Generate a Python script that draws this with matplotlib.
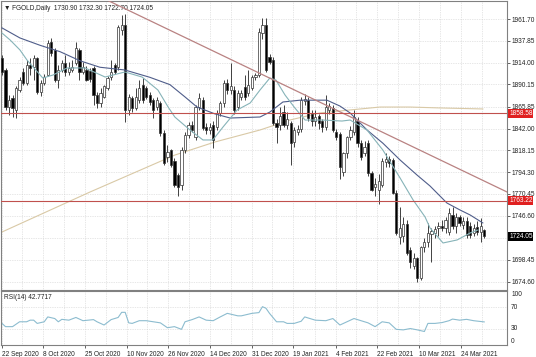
import numpy as np
import matplotlib
matplotlib.use("Agg")
import matplotlib.pyplot as plt
import matplotlib.transforms as mtrans

plt.rcParams["font.family"] = ["Liberation Sans", "DejaVu Sans"]

# daily OHLC (bar 0 = 22 Sep 2020)
opens = [1919, 1906, 1866, 1875, 1862, 1884, 1904, 1892, 1911, 1909,
         1919, 1882, 1892, 1900, 1937, 1928, 1895, 1906, 1914, 1904,
         1906, 1914, 1928, 1904, 1906, 1905, 1908, 1879, 1870, 1877,
         1886, 1898, 1911, 1909, 1950, 1955, 1862, 1875, 1864, 1873,
         1890, 1886, 1879, 1873, 1866, 1870, 1837, 1811, 1818, 1807,
         1791, 1780, 1819, 1835, 1846, 1833, 1866, 1873, 1844, 1840,
         1846, 1844, 1859, 1870, 1892, 1884, 1884, 1866, 1876, 1887,
         1881, 1886, 1898, 1900, 1946, 1955, 1920, 1917, 1848, 1846,
         1860, 1846, 1848, 1827, 1838, 1842, 1872, 1873, 1858, 1850,
         1856, 1850, 1844, 1862, 1864, 1838, 1836, 1795, 1815, 1833,
         1838, 1850, 1826, 1815, 1826, 1793, 1778, 1775, 1780, 1805,
         1809, 1808, 1772, 1723, 1724, 1738, 1709, 1692, 1700, 1679,
         1712, 1718, 1727, 1728, 1733, 1736, 1733, 1729, 1748, 1735,
         1745, 1737, 1741, 1736, 1728, 1734, 1729, 1730.90]
highs = [1922, 1908, 1879, 1879, 1888, 1898, 1908, 1917, 1919, 1922,
         1920, 1895, 1902, 1939, 1941, 1930, 1911, 1917, 1922, 1915,
         1917, 1937, 1930, 1915, 1910, 1908, 1910, 1882, 1886, 1890,
         1899, 1917, 1914, 1955, 1966, 1967, 1880, 1878, 1886, 1895,
         1897, 1888, 1882, 1875, 1876, 1872, 1840, 1824, 1820, 1810,
         1793, 1822, 1838, 1849, 1850, 1868, 1881, 1876, 1848, 1848,
         1850, 1862, 1872, 1895, 1896, 1914, 1888, 1884, 1884, 1900,
         1906, 1900, 1903, 1952, 1963, 1963, 1924, 1920, 1852, 1866,
         1868, 1860, 1850, 1844, 1846, 1876, 1880, 1876, 1862, 1862,
         1858, 1852, 1879, 1870, 1868, 1842, 1838, 1816, 1834, 1845,
         1862, 1855, 1830, 1828, 1830, 1796, 1788, 1792, 1810, 1815,
         1812, 1810, 1775, 1756, 1745, 1742, 1712, 1706, 1702, 1714,
         1722, 1739, 1733, 1736, 1740, 1742, 1745, 1755, 1756, 1750,
         1748, 1745, 1745, 1740, 1738, 1741, 1744, 1732.30]
lows = [1900, 1862, 1857, 1855, 1853, 1882, 1890, 1890, 1900, 1895,
        1880, 1878, 1890, 1899, 1921, 1893, 1886, 1904, 1899, 1900,
        1904, 1911, 1895, 1902, 1894, 1893, 1868, 1864, 1866, 1875,
        1884, 1895, 1902, 1906, 1944, 1849, 1857, 1860, 1862, 1870,
        1870, 1874, 1868, 1853, 1862, 1834, 1802, 1805, 1800, 1778,
        1768, 1775, 1815, 1832, 1838, 1830, 1862, 1840, 1836, 1836,
        1821, 1840, 1856, 1866, 1880, 1880, 1858, 1862, 1873, 1873,
        1878, 1884, 1895, 1898, 1940, 1904, 1912, 1846, 1826, 1840,
        1844, 1842, 1802, 1822, 1835, 1838, 1868, 1850, 1845, 1845,
        1842, 1838, 1840, 1858, 1838, 1830, 1787, 1790, 1810, 1830,
        1835, 1822, 1808, 1812, 1790, 1774, 1768, 1760, 1778, 1800,
        1800, 1770, 1726, 1716, 1718, 1704, 1690, 1688, 1674, 1676,
        1707, 1712, 1696, 1722, 1725, 1730, 1728, 1726, 1732, 1728,
        1735, 1732, 1722, 1722, 1725, 1726, 1718, 1722.70]
closes = [1904, 1866, 1873, 1864, 1886, 1895, 1892, 1911, 1908, 1919,
          1882, 1892, 1898, 1935, 1925, 1895, 1906, 1914, 1904, 1908,
          1909, 1930, 1904, 1909, 1895, 1896, 1879, 1870, 1881, 1888,
          1897, 1904, 1904, 1953, 1955, 1862, 1876, 1864, 1876, 1886,
          1873, 1876, 1871, 1862, 1873, 1837, 1804, 1816, 1802, 1780,
          1778, 1819, 1835, 1846, 1840, 1866, 1875, 1843, 1840, 1844,
          1830, 1859, 1870, 1892, 1884, 1889, 1862, 1881, 1881, 1876,
          1890, 1898, 1900, 1948, 1955, 1906, 1915, 1848, 1844, 1856,
          1846, 1852, 1826, 1840, 1842, 1873, 1874, 1854, 1850, 1855,
          1848, 1844, 1866, 1867, 1840, 1833, 1800, 1815, 1833, 1840,
          1855, 1826, 1811, 1822, 1793, 1775, 1781, 1785, 1807, 1809,
          1804, 1772, 1728, 1733, 1738, 1706, 1696, 1700, 1679, 1712,
          1718, 1728, 1730, 1732, 1735, 1733, 1742, 1750, 1735, 1745,
          1739, 1741, 1726, 1726, 1733, 1729, 1735, 1724.05]

# moving averages, sampled (bar index, price)
ma_slow_x = [0, 5.1, 10.8, 16.5, 22.2, 27.8, 34.9, 42, 47.7, 52, 55.4, 60.5,
             64.8, 73.3, 76.1, 79.8, 84.7, 92.3, 96, 98.9, 103.7, 108.2,
             113.1, 117.9, 121.6, 126.4, 130.1, 133, 136.6]
ma_slow_y = [1952, 1941, 1933, 1926, 1916, 1909, 1906, 1898, 1890, 1876.5,
             1865.5, 1858, 1853.5, 1854.6, 1860, 1871, 1873, 1873, 1866.6,
             1859, 1840.4, 1826, 1807.6, 1791.2, 1779.2, 1760.6, 1753,
             1747.5, 1738.8]
ma_fast_x = [0, 2.3, 5.1, 7.1, 11.6, 14.5, 18.5, 23.6, 29.3, 34.9, 39.8, 44.3,
             47.2, 49.1, 53.4, 57.1, 59.9, 62.8, 66.8, 70.5, 73.3, 76.1, 77.8,
             80.4, 83.2, 86.1, 90.9, 96.6, 98.9, 103.7, 108.2, 113.1, 116.8,
             120.2, 121.6, 125.3, 129.3, 133, 135.2]
ma_fast_y = [1946.4, 1938.8, 1927.9, 1916.9, 1897.2, 1900.5, 1908.2, 1908.2,
             1898.3, 1903.8, 1898.3, 1884.1, 1865.5, 1854.6, 1840.4, 1829.5,
             1829.5, 1843.7, 1862.3, 1869.9, 1884.1, 1897.2, 1895.1, 1878.7,
             1864.5, 1851.3, 1851.3, 1850.2, 1851.3, 1840.4, 1818.5, 1787.9,
             1763.9, 1745.3, 1733.3, 1716.9, 1720.2, 1727.8, 1731.1]
ma_long_x = [0, 25, 49.1, 60.5, 73.3, 81.8, 90.3, 98.9, 107.4, 115.9, 124.4, 136.6]
ma_long_y = [1728.9, 1772.6, 1813, 1827.3, 1840.4, 1851.3, 1859, 1862.3,
             1865.5, 1865.5, 1864.5, 1863.4]

trend_x = [29.8, 143.5]
trend_y = [1982.5, 1772.6]
levels = [1858.58, 1763.22]
last_price = 1724.05

price_ticks = [1961.70, 1937.85, 1914.00, 1890.15, 1865.85, 1842.00, 1818.15,
               1794.30, 1770.45, 1746.60, 1722.75, 1698.45, 1674.60]
price_labels = ["1961.70", "1937.85", "1914.00", "1890.15", "1865.85", "1842.00",
                "1818.15", "1794.30", "1770.45", "1746.60", "", "1698.45", "1674.60"]

date_pos = [0, 11.6, 23.6, 35.4, 47.2, 59.1, 71, 82.7, 94.9, 106.5, 118.5, 130.4]
date_labels = ["22 Sep 2020", "8 Oct 2020", "25 Oct 2020", "10 Nov 2020",
               "26 Nov 2020", "14 Dec 2020", "31 Dec 2020", "19 Jan 2021",
               "4 Feb 2021", "22 Feb 2021", "10 Mar 2021", "24 Mar 2021"]

rsi_x = [0, 1, 3, 5, 7, 8, 9, 10, 12, 13, 15, 16, 17, 19, 21, 23, 26, 27, 29,
         31, 33, 34, 35, 36, 37, 39, 41, 43, 45, 47, 49, 51, 52, 54, 56, 58,
         60, 62, 64, 67, 68, 71, 73, 74, 75, 76, 78, 80, 81, 83, 85, 86, 89,
         92, 94, 96, 98, 100, 102, 104, 106, 108, 110, 112, 114, 116, 118,
         120, 121, 123, 125, 127, 128, 130, 132, 134, 136, 137]
rsi_y = [40, 34, 34, 43, 43, 46, 46, 40, 43, 52, 49, 43, 47.5, 46, 51, 45, 47,
         43, 37, 47, 51, 60.5, 60.5, 41, 40, 45, 45, 43, 41, 32, 34, 29, 43,
         47, 52, 46, 45, 52, 58.6, 54, 54, 58.6, 60, 71, 68, 58.6, 43, 43, 40,
         40, 44, 52, 46, 45, 49, 37, 43, 49, 45, 41, 34, 43, 41, 29, 28, 30.5,
         28, 25, 40, 40, 41.5, 45, 48, 46, 47.5, 45, 43.5, 42.77]

W, H = 536, 357
fs = 4.7
fig = plt.figure(figsize=(W / 100, H / 100), dpi=100)
ax = fig.add_axes([1 / W, 67 / H, 506 / W, 289 / H])
ax2 = fig.add_axes([1 / W, 12 / H, 506 / W, 54 / H])

n = len(closes)
idx = np.arange(n)
o, h, l, c = map(np.array, (opens, highs, lows, closes))
up = c >= o

xlim = (-0.28, 143.47)
grid_kw = dict(color="#cfcfcf", lw=0.5, ls=(0, (1, 1.5)), zorder=0)

# main panel
ax.vlines(idx, l, h, color="#222222", lw=0.6, zorder=2)
ax.bar(idx, np.maximum(np.abs(c - o), 0.7), bottom=np.minimum(o, c), width=0.62,
       color=np.where(up, "white", "black"), edgecolor="#333333", linewidth=0.5, zorder=3)
ax.plot(ma_long_x, ma_long_y, color="#d9c9a6", lw=0.8, zorder=1)
ax.plot(ma_slow_x, ma_slow_y, color="#4f5d8a", lw=0.8, zorder=4)
ax.plot(ma_fast_x, ma_fast_y, color="#86b3b8", lw=0.8, zorder=4)
ax.plot(trend_x, trend_y, color="#b98282", lw=0.9, zorder=4)
for lv in levels:
    ax.axhline(lv, color="#c0504d", lw=0.8, zorder=4)

ax.set_xlim(*xlim)
ax.set_ylim(1665.5, 1981.4)
for y in price_ticks:
    ax.axhline(y, **grid_kw)

vgrid = sorted(date_pos + [(a + b) / 2 for a, b in zip(date_pos[:-1], date_pos[1:])]
               + [date_pos[-1] + (date_pos[-1] - date_pos[-2]) / 2])
for x in vgrid:
    ax.axvline(x, **grid_kw)
    ax2.axvline(x, **grid_kw)

ax.set_xticks([])
ax.yaxis.tick_right()
ax.set_yticks(price_ticks)
ax.set_yticklabels(price_labels)
ax.tick_params(axis="y", length=2, width=0.5, pad=1.5, labelsize=fs, colors="#222222")

tr = mtrans.blended_transform_factory(ax.transAxes, ax.transData)
for lv in levels:
    ax.text(1.004, lv, f"{lv:.2f}", transform=tr, fontsize=fs, color="white",
            va="center", ha="left", bbox=dict(fc="#e02020", ec="none", pad=0.6))
ax.text(1.004, last_price, f"{last_price:.2f}", transform=tr, fontsize=fs, color="white",
        va="center", ha="left", bbox=dict(fc="black", ec="none", pad=0.6))

ax.text(0.006, 0.986, "\u25bc FGOLD,Daily  1730.90 1732.30 1722.70 1724.05",
        transform=ax.transAxes, fontsize=fs, color="#222222", va="top", ha="left")

# RSI panel
ax2.plot(rsi_x, rsi_y, color="#8cbccf", lw=0.8)
ax2.axhline(30, **grid_kw)
ax2.axhline(70, **grid_kw)
ax2.set_xlim(*xlim)
ax2.set_ylim(0, 100)
ax2.set_yticks([])
ax2.yaxis.tick_right()
tr2 = mtrans.blended_transform_factory(ax2.transAxes, ax2.transData)
for v, va in [(100, "top"), (70, "center"), (30, "center"), (0, "bottom")]:
    ax2.text(1.008, v, str(v), transform=tr2, fontsize=fs, color="#222222", va=va, ha="left")
ax2.text(0.006, 0.95, "RSI(14) 42.7717", transform=ax2.transAxes, fontsize=fs,
         color="#222222", va="top", ha="left")
ax2.set_xticks(date_pos)
ax2.set_xticklabels(date_labels, ha="left")
ax2.tick_params(axis="x", length=2.5, width=0.5, pad=1.5, labelsize=fs, colors="#222222")

for a in (ax, ax2):
    for s in a.spines.values():
        s.set_color("#808080")
        s.set_linewidth(0.8)

fig.savefig("out.png", dpi=100, facecolor="white")
